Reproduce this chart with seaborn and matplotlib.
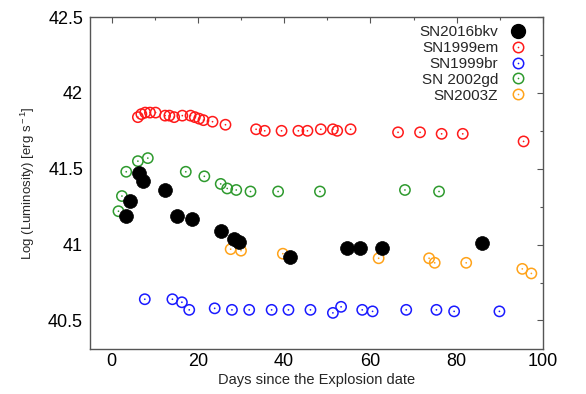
import matplotlib
matplotlib.use("Agg")
import matplotlib.pyplot as plt
from matplotlib.lines import Line2D
from matplotlib.legend_handler import HandlerTuple
from matplotlib.ticker import MultipleLocator
import seaborn as sns
import pandas as pd

# Light curves: days since explosion vs log luminosity
bkv_days = [3.3, 4.2, 6.3, 7.4, 12.4, 15.2, 18.6, 25.4, 28.3, 29.6, 41.4, 54.5, 57.6, 62.6, 85.8]
bkv_lum = [41.19, 41.29, 41.47, 41.42, 41.36, 41.19, 41.17, 41.09, 41.04, 41.02, 40.92, 40.98, 40.98, 40.98, 41.01]

em_days = [6.1, 6.9, 7.8, 8.9, 10.2, 12.4, 13.4, 14.5, 16.4, 18.3, 19.3, 20.3, 21.3, 23.4, 26.4,
           33.5, 35.5, 39.4, 43.3, 45.4, 48.5, 51.3, 52.3, 55.4, 66.4, 71.5, 76.5, 81.4, 95.5]
em_lum = [41.84, 41.86, 41.87, 41.87, 41.87, 41.85, 41.85, 41.84, 41.85, 41.85, 41.84, 41.83, 41.82, 41.81, 41.79,
          41.76, 41.75, 41.75, 41.75, 41.75, 41.76, 41.76, 41.75, 41.76, 41.74, 41.74, 41.73, 41.73, 41.68]

br_days = [7.7, 14.1, 16.3, 18.0, 23.9, 27.9, 31.9, 37.1, 41.0, 46.1, 51.3, 53.2, 58.1, 60.5, 68.3, 75.3, 79.4, 89.9]
br_lum = [40.64, 40.64, 40.62, 40.57, 40.58, 40.57, 40.57, 40.57, 40.57, 40.57, 40.55, 40.59, 40.57, 40.56,
          40.57, 40.57, 40.56, 40.56]

gd_days = [1.6, 2.4, 3.4, 6.1, 8.4, 17.2, 21.5, 25.3, 26.8, 28.9, 32.2, 38.6, 48.3, 68.0, 75.9]
gd_lum = [41.22, 41.32, 41.48, 41.55, 41.57, 41.48, 41.45, 41.40, 41.37, 41.36, 41.35, 41.35, 41.35, 41.36, 41.35]

z_days = [27.6, 30.0, 39.7, 61.9, 73.6, 74.9, 82.2, 95.2, 97.3]
z_lum = [40.97, 40.96, 40.94, 40.91, 40.91, 40.88, 40.88, 40.84, 40.81]

names = ["SN2016bkv", "SN1999em", "SN1999br", "SN 2002gd", "SN2003Z"]
colors = ["black", "#ff1a1a", "#1a1aff", "#2e9a2e", "#ffa31a"]

sns.set_style("white")
plt.rcParams["font.family"] = ["Liberation Sans", "DejaVu Sans"]
plt.rcParams["mathtext.fontset"] = "custom"
plt.rcParams["mathtext.rm"] = "Liberation Sans"
plt.rcParams["mathtext.it"] = "Liberation Sans"

fig = plt.figure(figsize=(5.86, 3.94), dpi=100)
ax = fig.add_axes([90 / 586, 1 - 349.3 / 394, (543 - 90) / 586, (349.3 - 17) / 394])

frame = "#555555"

handles = []
# filled marker series
df_bkv = pd.DataFrame({"day": bkv_days, "lum": bkv_lum})
sns.scatterplot(data=df_bkv, x="day", y="lum", ax=ax, color="black", edgecolor="black",
                s=100, linewidth=0.5, zorder=3)
handles.append(Line2D([], [], ls="none", marker="o", ms=10, mfc="black", mec="black"))

open_series = [(em_days, em_lum), (br_days, br_lum), (gd_days, gd_lum), (z_days, z_lum)]
for (d, l), col in zip(open_series, colors[1:]):
    df = pd.DataFrame({"day": d, "lum": l})
    sns.scatterplot(data=df, x="day", y="lum", ax=ax, color=col, edgecolor=col,
                    facecolor="none", s=55, linewidth=1.1, zorder=2)
    sns.scatterplot(data=df, x="day", y="lum", ax=ax, color=col, edgecolor="none",
                    s=1.5, linewidth=0, zorder=2)
    ring = Line2D([], [], ls="none", marker="o", ms=7.5, mfc="none", mec=col, mew=1.1)
    dot = Line2D([], [], ls="none", marker="o", ms=1.2, mfc=col, mec="none")
    handles.append((ring, dot))

ax.set_xlim(-5, 100)
ax.set_ylim(40.31, 42.5)
ax.xaxis.set_major_locator(MultipleLocator(20))
ax.xaxis.set_minor_locator(MultipleLocator(10))
ax.yaxis.set_major_locator(MultipleLocator(0.5))
ax.yaxis.set_minor_locator(MultipleLocator(0.25))
ax.set_yticks([40.5, 41, 41.5, 42, 42.5])
ax.set_yticklabels(["40.5", "41", "41.5", "42", "42.5"])

ax.tick_params(which="both", direction="in", top=True, right=True, color=frame, width=0.8,
               labelsize=13, labelcolor="black")
ax.tick_params(which="major", length=4, pad=3)
ax.tick_params(which="minor", length=2.5)
ax.tick_params(axis="y", which="major", pad=5)
for sp in ax.spines.values():
    sp.set_color(frame)
    sp.set_linewidth(1.0)

ax.set_xlabel("Days since the Explosion date", fontsize=10.5, labelpad=2)
ax.set_ylabel(r"Log (Luminosity) [erg s$^{\rm -1}$]", fontsize=9.5, labelpad=8)

leg = ax.legend(handles, names, loc="upper right", bbox_to_anchor=(0.962, 0.975),
                frameon=False, markerfirst=False, fontsize=11, labelspacing=0.12,
                handlelength=1.0, handletextpad=0.8, borderpad=0, borderaxespad=0,
                handler_map={tuple: HandlerTuple(ndivide=1)})
for t in leg.get_texts():
    t.set_ha("right")

fig.savefig("out.png", dpi=100)
